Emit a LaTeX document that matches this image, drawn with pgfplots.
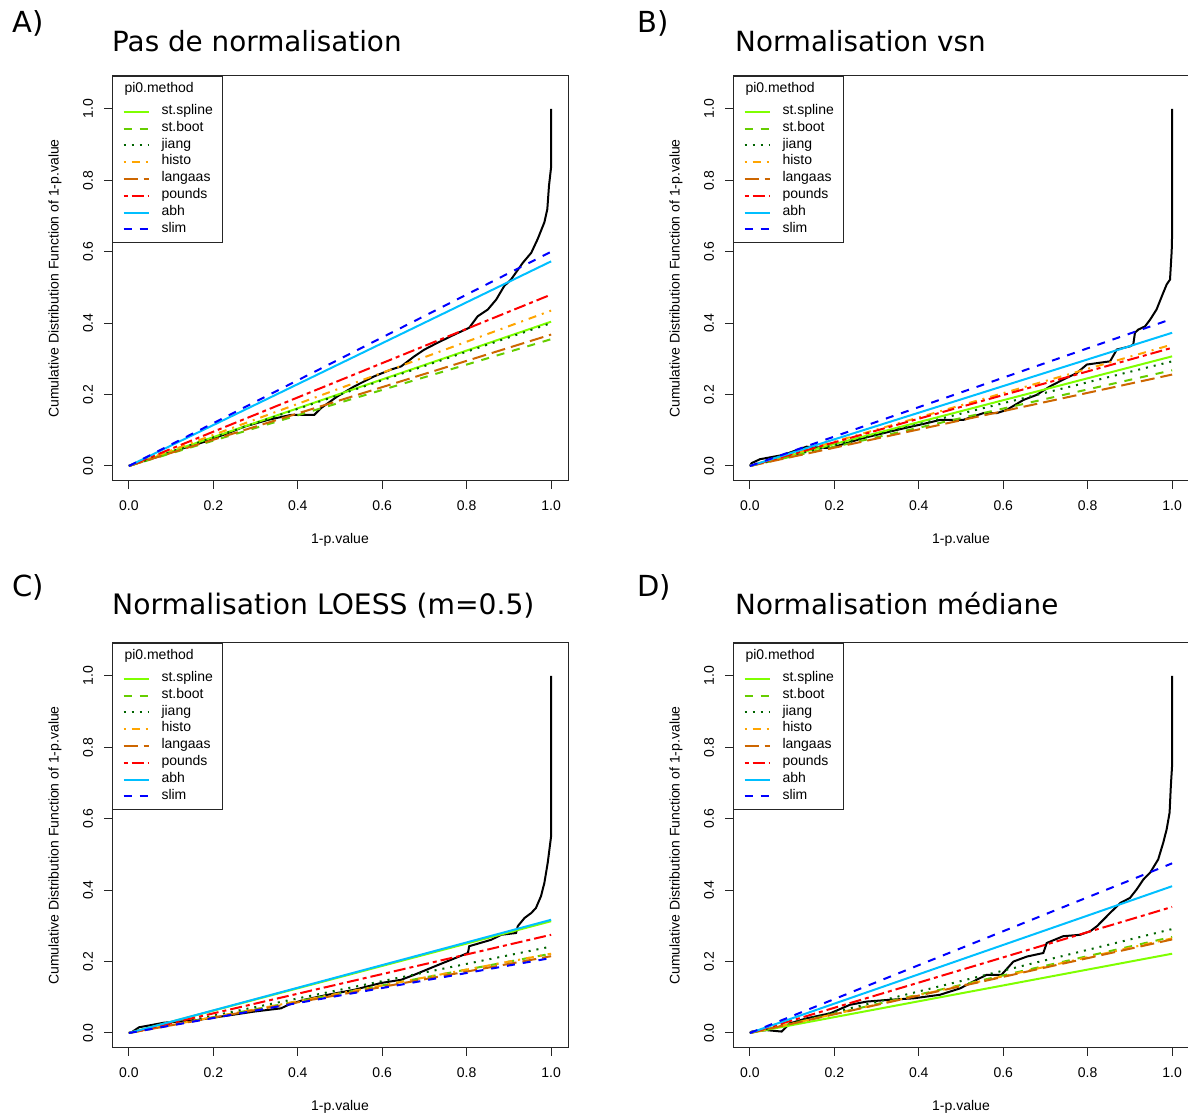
\documentclass[border=0pt]{standalone}
\usepackage{fontspec}
\setmainfont{Liberation Sans}
\newfontfamily\titlefont{DejaVu Sans}
\usepackage{pgfplots}
\pgfplotsset{compat=1.18}

\definecolor{cspline}{HTML}{7FFF00}
\definecolor{cboot}{HTML}{66CD00}
\definecolor{cjiang}{HTML}{006400}
\definecolor{chisto}{HTML}{FFA500}
\definecolor{clang}{HTML}{CD6600}
\definecolor{cpounds}{HTML}{FF0000}
\definecolor{cabh}{HTML}{00BFFF}
\definecolor{cslim}{HTML}{0000FF}

\newcommand\smallfont{\fontsize{14}{16}\selectfont}

\pgfplotsset{
  lspline/.style={cspline, line width=2pt},
  lboot/.style={cboot, line width=2pt, dash pattern=on 8pt off 8pt},
  ljiang/.style={cjiang, line width=2pt, dash pattern=on 2pt off 6pt},
  lhisto/.style={chisto, line width=2pt, dash pattern=on 2pt off 6pt on 8pt off 6pt},
  llang/.style={clang, line width=2pt, dash pattern=on 14pt off 6pt},
  lpounds/.style={cpounds, line width=2pt, dash pattern=on 4pt off 4pt on 12pt off 4pt},
  labh/.style={cabh, line width=2pt},
  lslim/.style={cslim, line width=2pt, dash pattern=on 8pt off 8pt},
  rpanel/.style={
    scale only axis, width=456pt, height=405pt,
    anchor=south west,
    xmin=-0.04, xmax=1.04, ymin=-0.042, ymax=1.092,
    axis line style={line width=1pt, black!85},
    xtick={0,0.2,0.4,0.6,0.8,1}, ytick={0,0.2,0.4,0.6,0.8,1},
    xticklabels={0.0,0.2,0.4,0.6,0.8,1.0},
    yticklabels={0.0,0.2,0.4,0.6,0.8,1.0},
    xtick pos=lower, ytick pos=left,
    tick align=outside, major tick length=8pt,
    tick style={black!85, line width=1pt},
    tick label style={font=\smallfont},
    every x tick label/.style={anchor=center, yshift=-17pt},
    every y tick label/.style={anchor=center, xshift=-16pt, rotate=90},
    every axis x label/.style={at={(axis description cs:0.5,-0.146)}, anchor=center, font=\smallfont},
    every axis y label/.style={at={(axis description cs:-0.125,0.5)}, anchor=center, rotate=90, font=\smallfont},
    xlabel={1-p.value},
    ylabel={Cumulative Distribution Function of 1-p.value},
    legend image code/.code={\draw[##1] (0pt,0pt) -- (25pt,0pt);},
    legend style={at={(axis description cs:0,1)}, anchor=north west,
      draw=black!85, line width=1pt, fill=white,
      font=\smallfont, inner xsep=10pt, inner ysep=5pt,
      row sep=0pt, column sep=12pt,
      cells={anchor=west},
      nodes={inner sep=0pt, text height=11pt, text depth=5.8pt}},
    legend cell align=left,
  }
}

\newcommand\legtitle{\addlegendimage{empty legend}\addlegendentry[text depth=11pt]{\hspace*{-37pt}pi0.method}}

\newcommand\methods[8]{%
  \addplot[lspline] coordinates {(0,0) (1,#1)}; \addlegendentry{st.spline}
  \addplot[lboot] coordinates {(0,0) (1,#2)}; \addlegendentry{st.boot}
  \addplot[ljiang] coordinates {(0,0) (1,#3)}; \addlegendentry{jiang}
  \addplot[lhisto] coordinates {(0,0) (1,#4)}; \addlegendentry{histo}
  \addplot[llang] coordinates {(0,0) (1,#5)}; \addlegendentry{langaas}
  \addplot[lpounds] coordinates {(0,0) (1,#6)}; \addlegendentry{pounds}
  \addplot[labh] coordinates {(0,0) (1,#7)}; \addlegendentry{abh}
  \addplot[lslim] coordinates {(0,0) (1,#8)}; \addlegendentry{slim}
}

\begin{document}
\begin{tikzpicture}[x=1pt, y=1pt]
\useasboundingbox (0,0) rectangle (1188,1118);

% Titles
\node[anchor=base west, font=\titlefont\fontsize{29}{34}\selectfont, inner sep=0pt] at (12,1085) {A)};
\node[anchor=base west, font=\titlefont\fontsize{27.8}{33}\selectfont, inner sep=0pt] at (112,1066) {Pas de normalisation};
\node[anchor=base west, font=\titlefont\fontsize{29}{34}\selectfont, inner sep=0pt] at (637,1085) {B)};
\node[anchor=base west, font=\titlefont\fontsize{27.8}{33}\selectfont, inner sep=0pt] at (735,1066) {Normalisation vsn};
\node[anchor=base west, font=\titlefont\fontsize{29}{34}\selectfont, inner sep=0pt] at (12,521) {C)};
\node[anchor=base west, font=\titlefont\fontsize{28.2}{33}\selectfont, inner sep=0pt] at (112,503) {Normalisation LOESS (m=0.5)};
\node[anchor=base west, font=\titlefont\fontsize{29}{34}\selectfont, inner sep=0pt] at (637,521) {D)};
\node[anchor=base west, font=\titlefont\fontsize{27.8}{33}\selectfont, inner sep=0pt] at (735,503) {Normalisation médiane};

% A
\begin{axis}[rpanel, at={(112pt,637pt)}]
\legtitle
\addplot[black, line width=2pt, forget plot] coordinates {
(0,0) (0.03,0.012) (0.08,0.03) (0.13,0.05) (0.18,0.068) (0.23,0.09) (0.273,0.110)
(0.329,0.129) (0.384,0.143) (0.439,0.143) (0.455,0.162) (0.494,0.195) (0.534,0.223)
(0.581,0.251) (0.621,0.270) (0.645,0.279) (0.676,0.307) (0.700,0.326) (0.731,0.345)
(0.771,0.368) (0.806,0.387) (0.826,0.419) (0.850,0.438) (0.870,0.466) (0.889,0.504)
(0.905,0.522) (0.933,0.569) (0.953,0.597) (0.968,0.635) (0.984,0.682) (0.991,0.719)
(0.995,0.785) (1.0,0.837) (1.0,1.0)};
\methods{0.404}{0.355}{0.400}{0.435}{0.368}{0.480}{0.573}{0.600}
\end{axis}

% B
\begin{axis}[rpanel, at={(733pt,637pt)}]
\legtitle
\addplot[black, line width=2pt, forget plot] coordinates {
(0,0) (0.004,0.008) (0.024,0.019) (0.079,0.031) (0.134,0.054) (0.190,0.050) (0.268,0.078)
(0.348,0.101) (0.419,0.120) (0.450,0.129) (0.505,0.129) (0.553,0.148) (0.585,0.148)
(0.608,0.157) (0.648,0.185) (0.679,0.199) (0.711,0.223) (0.742,0.242) (0.774,0.260)
(0.798,0.284) (0.822,0.288) (0.853,0.293) (0.869,0.326) (0.900,0.335) (0.908,0.340)
(0.912,0.373) (0.920,0.382) (0.936,0.391) (0.948,0.410) (0.963,0.438) (0.979,0.485)
(0.987,0.508) (0.995,0.522) (0.999,0.602) (1.0,0.65) (1.0,1.0)};
\methods{0.307}{0.268}{0.293}{0.340}{0.256}{0.331}{0.373}{0.412}
\end{axis}

% C
\begin{axis}[rpanel, at={(112pt,70pt)}]
\legtitle
\addplot[black, line width=2pt, forget plot] coordinates {
(0,0) (0.005,0.001) (0.024,0.016) (0.052,0.022) (0.084,0.029) (0.12,0.032) (0.16,0.036)
(0.218,0.046) (0.297,0.060) (0.360,0.069) (0.38,0.080) (0.415,0.093) (0.471,0.107)
(0.534,0.121) (0.597,0.140) (0.645,0.149) (0.676,0.163) (0.723,0.186) (0.763,0.205)
(0.803,0.224) (0.806,0.243) (0.858,0.261) (0.882,0.275) (0.917,0.280) (0.921,0.299)
(0.937,0.322) (0.953,0.336) (0.964,0.350) (0.976,0.383) (0.984,0.420) (0.992,0.477)
(0.996,0.514) (1.0,0.551) (1.0,1.0)};
\methods{0.313}{0.222}{0.242}{0.222}{0.215}{0.275}{0.317}{0.210}
\end{axis}

% D
\begin{axis}[rpanel, at={(733pt,70pt)}]
\legtitle
\addplot[black, line width=2pt, forget plot] coordinates {
(0,0) (0.004,0.004) (0.04,0.008) (0.075,0.004) (0.095,0.027) (0.134,0.041) (0.19,0.055)
(0.237,0.079) (0.277,0.088) (0.332,0.093) (0.387,0.097) (0.450,0.107) (0.498,0.125)
(0.537,0.149) (0.561,0.163) (0.596,0.163) (0.624,0.200) (0.656,0.214) (0.695,0.224)
(0.703,0.252) (0.742,0.271) (0.782,0.275) (0.806,0.285) (0.822,0.299) (0.853,0.336)
(0.877,0.364) (0.900,0.378) (0.916,0.402) (0.932,0.430) (0.948,0.449) (0.967,0.486)
(0.979,0.533) (0.987,0.570) (0.994,0.617) (0.997,0.692) (1.0,0.75) (1.0,1.0)};
\methods{0.222}{0.269}{0.291}{0.265}{0.262}{0.353}{0.411}{0.475}
\end{axis}
\end{tikzpicture}
\end{document}
